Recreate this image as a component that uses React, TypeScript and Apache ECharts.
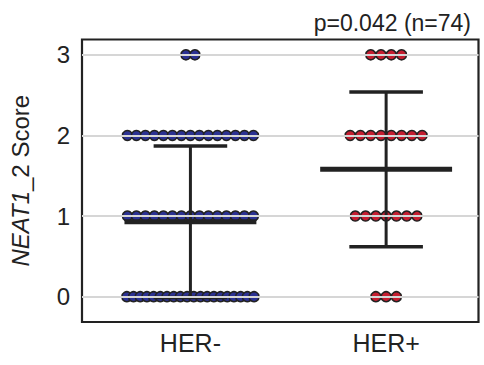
import React, { useEffect, useRef } from "react";
import * as echarts from "echarts";

const categories = ["HER-", "HER+"];
const scoreLevels = [0, 1, 2, 3];
const herNegCounts = [20, 15, 15, 2];
const herPosCounts = [3, 7, 8, 4];
const groupMeans = [0.93, 1.58];
const groupSds = [0.94, 0.96];
const yTickValues = [0, 1, 2, 3];
const pValueText = "p=0.042 (n=74)";

const FONT = "'Liberation Sans', Arial, Helvetica, sans-serif";
const INK = "#222222";
const groupColors = ["#2b3192", "#c41e30"];
const naturalSpacing = [0.046, 0.0525];
const maxSwarmWidth = 0.65;
const MEAN_HW = 0.337;
const CAP_HW = 0.188;

function swarm(groupIndex: number, counts: number[]) {
  const pts: number[][] = [];
  counts.forEach((n, k) => {
    const step = n > 1 ? Math.min(naturalSpacing[groupIndex], maxSwarmWidth / (n - 1)) : 0;
    for (let j = 0; j < n; j++) {
      pts.push([groupIndex + (j - (n - 1) / 2) * step, scoreLevels[k]]);
    }
  });
  return pts;
}

export default function App() {
  const ref = useRef<HTMLDivElement>(null);
  useEffect(() => {
    if (!ref.current) return;
    const chart = echarts.init(ref.current, undefined, { renderer: "svg" });
    const errData = groupMeans.map((m, i) => [i, m, groupSds[i]]);
    chart.setOption({
      animation: false,
      textStyle: { fontFamily: FONT },
      title: {
        text: pValueText,
        right: 8,
        top: 6,
        textStyle: { fontFamily: FONT, fontSize: 23, fontWeight: "normal", color: INK },
      },
      grid: {
        left: 81.5,
        right: 5.5,
        top: 39.5,
        bottom: 43,
        show: true,
        borderColor: INK,
        borderWidth: 2.2,
        backgroundColor: "transparent",
      },
      xAxis: {
        type: "value",
        min: -0.554,
        max: 1.472,
        splitLine: { show: false },
        axisLine: { show: false },
        axisTick: { show: false },
        axisLabel: {
          customValues: [0, 1],
          formatter: (v: number) => categories[Math.round(v)] ?? "",
          fontSize: 25,
          color: INK,
          fontFamily: FONT,
          margin: 8,
        },
      },
      yAxis: {
        type: "value",
        min: -0.314,
        max: 3.19,
        name: "{i|NEAT1}_2 Score",
        nameLocation: "middle",
        nameGap: 50,
        nameRotate: 90,
        nameTextStyle: {
          fontSize: 24,
          color: INK,
          fontFamily: FONT,
          rich: { i: { fontStyle: "italic", fontSize: 24, color: INK, fontFamily: FONT } },
        },
        splitLine: { show: false },
        axisLine: { show: false },
        axisTick: {
          show: true,
          customValues: yTickValues,
          length: 7,
          lineStyle: { color: INK, width: 2 },
        },
        axisLabel: {
          customValues: yTickValues,
          fontSize: 24,
          color: INK,
          fontFamily: FONT,
          margin: 12,
        },
      },
      series: [
        {
          type: "scatter",
          data: [],
          z: 1,
          silent: true,
          markLine: {
            silent: true,
            symbol: "none",
            label: { show: false },
            lineStyle: { color: "#d6d6d6", width: 2, type: "solid" },
            data: yTickValues.map((v) => ({ yAxis: v })),
          },
        },
        ...[herNegCounts, herPosCounts].map((counts, g) => ({
          type: "scatter",
          z: 2,
          symbol: "circle",
          symbolSize: 10,
          data: swarm(g, counts),
          itemStyle: { color: groupColors[g], borderColor: INK, borderWidth: 1.5, opacity: 1 },
        })),
        {
          type: "custom",
          z: 3,
          data: errData,
          renderItem: (params: any, api: any) => {
            const x = api.value(0);
            const m = api.value(1);
            const s = api.value(2);
            const top = api.coord([x, m + s]);
            const bot = api.coord([x, m - s]);
            const ml = api.coord([x - MEAN_HW, m]);
            const mr = api.coord([x + MEAN_HW, m]);
            const tl = api.coord([x - CAP_HW, m + s]);
            const tr = api.coord([x + CAP_HW, m + s]);
            const bl = api.coord([x - CAP_HW, m - s]);
            const br = api.coord([x + CAP_HW, m - s]);
            const st = (w: number) => ({ stroke: INK, lineWidth: w, fill: "none" });
            return {
              type: "group",
              children: [
                { type: "line", shape: { x1: top[0], y1: top[1], x2: bot[0], y2: bot[1] }, style: st(3) },
                { type: "line", shape: { x1: tl[0], y1: tl[1], x2: tr[0], y2: tr[1] }, style: st(3.5) },
                { type: "line", shape: { x1: bl[0], y1: bl[1], x2: br[0], y2: br[1] }, style: st(3.5) },
                { type: "line", shape: { x1: ml[0], y1: ml[1], x2: mr[0], y2: mr[1] }, style: st(5) },
              ],
            };
          },
        },
      ],
    });
    return () => chart.dispose();
  }, []);
  return (
    <div
      ref={ref}
      style={{ position: "fixed", left: 0, top: 0, width: 484, height: 365, background: "#fff" }}
    />
  );
}
